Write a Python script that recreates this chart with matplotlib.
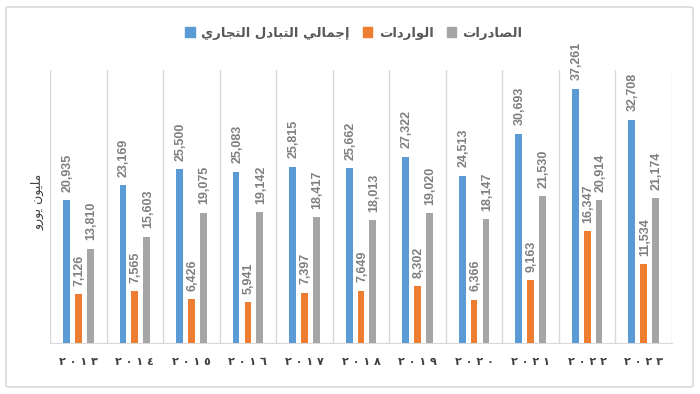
import matplotlib
matplotlib.use("Agg")
import matplotlib.pyplot as plt
from matplotlib.patches import FancyBboxPatch, Patch
import numpy as np

years = ["2013", "2014", "2015", "2016", "2017", "2018", "2019", "2020", "2021", "2022", "2023"]
total_trade = [20935, 23169, 25500, 25083, 25815, 25662, 27322, 24513, 30693, 37261, 32708]
imports = [7126, 7565, 6426, 5941, 7397, 7649, 8302, 6366, 9163, 16347, 11534]
exports = [13810, 15603, 19075, 19142, 18417, 18013, 19020, 18147, 21530, 20914, 21174]
series_names = ["إجمالي التبادل التجاري", "الواردات", "الصادرات"]
y_label = "مليون يورو"

# ---- minimal Arabic shaping (presentation forms, visual order) ----
FORMS = {
    'ا': ('\uFE8D', '\uFE8E', None, None),
    'إ': ('\uFE87', '\uFE88', None, None),
    'ج': ('\uFE9D', '\uFE9E', '\uFE9F', '\uFEA0'),
    'م': ('\uFEE1', '\uFEE2', '\uFEE3', '\uFEE4'),
    'ل': ('\uFEDD', '\uFEDE', '\uFEDF', '\uFEE0'),
    'ي': ('\uFEF1', '\uFEF2', '\uFEF3', '\uFEF4'),
    'ت': ('\uFE95', '\uFE96', '\uFE97', '\uFE98'),
    'ب': ('\uFE8F', '\uFE90', '\uFE91', '\uFE92'),
    'د': ('\uFEA9', '\uFEAA', None, None),
    'ر': ('\uFEAD', '\uFEAE', None, None),
    'و': ('\uFEED', '\uFEEE', None, None),
    'ص': ('\uFEB9', '\uFEBA', '\uFEBB', '\uFEBC'),
    'ن': ('\uFEE5', '\uFEE6', '\uFEE7', '\uFEE8'),
}


def joins_next(c):
    return c in FORMS and FORMS[c][2] is not None


def shape(text):
    out = []
    n = len(text)
    for i, c in enumerate(text):
        if c not in FORMS:
            out.append(c)
            continue
        prev = text[i - 1] if i > 0 else ''
        nxt = text[i + 1] if i + 1 < n else ''
        jp = joins_next(prev)
        jn = joins_next(c) and nxt in FORMS
        iso, fin, ini, med = FORMS[c]
        if jp and jn:
            out.append(med)
        elif jp:
            out.append(fin)
        elif jn:
            out.append(ini)
        else:
            out.append(iso)
    return ''.join(out)[::-1]


AR_DIGITS = str.maketrans("0123456789", "٠١٢٣٤٥٦٧٨٩")


def ar_year(y):
    return " ".join(y.translate(AR_DIGITS))


colors = ["#5B9BD5", "#ED7D31", "#A5A5A5"]
fig = plt.figure(figsize=(7, 3.94), dpi=100)
fig.patch.set_facecolor("white")
fig.patches.append(FancyBboxPatch((6 / 700, 7 / 394), 687 / 700, 380 / 394,
                                  boxstyle="round,pad=0,rounding_size=0.004",
                                  transform=fig.transFigure, fill=False,
                                  edgecolor="#D9D9D9", linewidth=1.2))

ax = fig.add_axes([50 / 700, (394 - 343) / 394, 622 / 700, 273 / 394])
x = np.arange(len(years))
w = 0.12
offs = [-0.21, 0.0, 0.21]
for data, off, col in zip([total_trade, imports, exports], offs, colors):
    bars = ax.bar(x + off, data, width=w, color=col, zorder=3)
    for b, v in zip(bars, data):
        ax.annotate(f"{v:,}", (b.get_x() + b.get_width() / 2, b.get_height()),
                    xytext=(0.8, 6), textcoords="offset points", rotation=90,
                    ha="center", va="bottom", fontsize=9, fontweight="bold",
                    color="#7F7F7F", family=["Liberation Sans", "DejaVu Sans"])

ax.set_xlim(-0.5, len(years) - 0.5)
ax.set_ylim(0, 40000)
for b in np.arange(-0.5, len(years), 1.0):
    ax.axvline(b, color="#D9D9D9", linewidth=1.0, zorder=1)
for s in ["top", "right", "left"]:
    ax.spines[s].set_visible(False)
ax.spines["bottom"].set_color("#D9D9D9")
ax.set_yticks([])
ax.set_xticks(x)
ax.set_xticklabels([ar_year(y) for y in years], fontsize=8, fontweight="bold",
                   color="#404040", family=["DejaVu Sans"])
ax.tick_params(axis="x", length=0, pad=10)

fig.text(38 / 700, 1 - 202 / 394, shape(y_label), rotation=90, ha="center", va="center",
         fontsize=9, color="#404040", family=["DejaVu Sans"])

handles = [Patch(facecolor=c, edgecolor=c) for c in colors]
leg = fig.legend(handles, [shape(s) for s in series_names], loc="center",
                 bbox_to_anchor=(354 / 700, 1 - 33 / 394), ncol=3, frameon=False,
                 handlelength=0.7, handleheight=0.7, handletextpad=0.5, columnspacing=1.0,
                 prop={"family": "DejaVu Sans", "weight": "bold", "size": 9.5})
for t in leg.get_texts():
    t.set_color("#595959")

fig.savefig("out.png", dpi=100)
